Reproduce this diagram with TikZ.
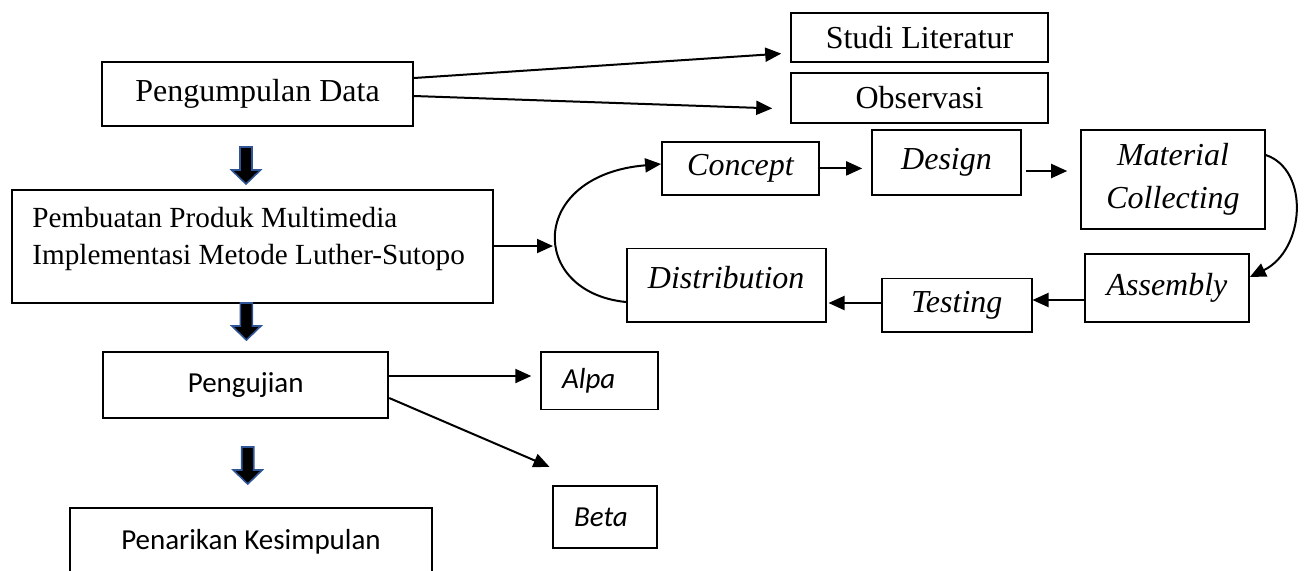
\documentclass[tikz,border=0pt]{standalone}
\usepackage{fontspec}
\setmainfont{Liberation Serif}
\setsansfont{Carlito}
\usetikzlibrary{arrows.meta}
\definecolor{garisbiru}{RGB}{47,85,151}

\begin{document}
\begin{tikzpicture}[x=0.5pt, y=-0.5pt,
  kotak/.style={draw, line width=1pt, inner sep=0pt, font=\fontsize{16}{19}\selectfont},
  tahap/.style={kotak, line width=0.8pt, font=\fontsize{16}{21.5}\selectfont\itshape, align=center},
  uji/.style={kotak, font=\fontsize{14.5}{17}\selectfont\sffamily},
  hasil/.style={kotak, line width=0.8pt, font=\fontsize{14.5}{17}\selectfont\sffamily\itshape, align=left, inner xsep=10.5pt},
  panah/.style={line width=1pt, -{Triangle[length=8pt, width=7pt]}},
  blok/.style={draw=garisbiru, fill=black, line width=0.8pt, line join=miter}]
  \useasboundingbox (0,0) rectangle (1304,570);
  \clip (0,0) rectangle (1304,570);
  % pengumpulan data
  \node[kotak, minimum width=155.5pt, minimum height=32pt] (data) at (257.5,94) {Pengumpulan Data};
  \node[kotak, line width=0.8pt, minimum width=128.5pt, minimum height=24.5pt] (studi) at (919.5,37.5) {Studi Literatur};
  \node[kotak, line width=0.8pt, minimum width=128.5pt, minimum height=25pt] (obs) at (919.5,98) {Observasi};
  \draw[panah, shorten >=4.5pt] (data.east |- 0,78) -- (studi.west |- 0,53);
  \draw[panah, shorten >=9pt] (data.east |- 0,96) -- (obs.west |- 0,109);
  % pembuatan produk
  \node[kotak, minimum width=240.5pt, minimum height=56.5pt] (buat) at (252.5,246.5) {};
  \node[anchor=west, align=left, inner sep=0pt, font=\fontsize{14.6}{18.5}\selectfont] (buattxt) at (32,238.5)
    {Pembuatan Produk Multimedia\\Implementasi Metode Luther-Sutopo};
  \coordinate (siklus) at (553,246);
  \draw[panah] (buat.east |- siklus) -- (siklus);
  % tahapan luther-sutopo
  \node[tahap, minimum width=78.6pt, minimum height=26.7pt] (concept) at (740.5,168.4) {Concept};
  \node[tahap, minimum width=74.5pt, minimum height=32.5pt] (design) at (946.5,162.5) {Design};
  \node[tahap, minimum width=92pt, minimum height=49.5pt] (material) at (1173,179.5) {Material\\Collecting};
  \node[tahap, minimum width=82pt, minimum height=33.9pt] (assembly) at (1167,288) {Assembly};
  \node[tahap, minimum width=75pt, minimum height=26.7pt] (testing) at (956.7,305) {Testing};
  \node[tahap, minimum width=99.5pt, minimum height=36.7pt, text depth=8pt] (distribusi) at (726.2,285) {Distribution};
  \draw[panah, shorten >=4.5pt] (concept.east) -- (design.west |- concept.east);
  \draw[panah, shorten <=2pt, shorten >=6.5pt] (design.east |- 0,171) -- (material.west |- 0,171);
  \draw[panah] (material.east |- 0,155) .. controls (1310,170) and (1305,250) .. (assembly.east |- 0,277);
  \draw[panah] (assembly.west |- 0,300) -- (testing.east |- 0,300);
  \draw[panah, shorten >=1pt] (testing.west |- 0,303) -- (distribusi.east |- 0,303);
  \draw[panah] (distribusi.west |- 0,302) .. controls (528,292) and (528,175) .. (concept.west |- 0,164);
  % pengujian
  \node[uji, minimum width=142.5pt, minimum height=33.3pt] (uji) at (245.7,385) {Pengujian};
  \node[hasil, text width=37.3pt, minimum height=28.8pt] (alpa) at (599.4,380.5) {Alpa};
  \node[hasil, text width=31pt, minimum height=31.2pt] (beta) at (605,517) {Beta};
  \draw[panah, shorten >=4.5pt] (uji.east |- 0,376) -- (alpa.west |- 0,376);
  \draw[panah, shorten >=1.5pt] (uji.east |- 0,398) -- (beta.north west |- 0,468);
  % kesimpulan
  \node[uji, minimum width=181pt, minimum height=34pt] (simpul) at (251,542) {Penarikan Kesimpulan};
  % panah blok
  \foreach \x/\y in {246/147, 246.4/303, 247.7/447}
    \draw[blok] (\x-6,\y) -- (\x+6,\y) -- (\x+6,\y+23) -- (\x+14.5,\y+23) -- (\x,\y+37)
      -- (\x-14.5,\y+23) -- (\x-6,\y+23) -- cycle;
\end{tikzpicture}
\end{document}
